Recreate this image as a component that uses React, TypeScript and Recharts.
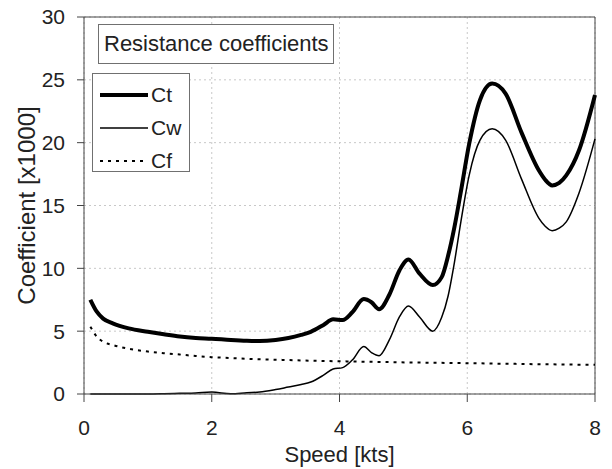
import { LineChart, Line, XAxis, YAxis, CartesianGrid, ReferenceLine, Legend, Label } from "recharts"

const speed = [0.1, 0.2, 0.3, 0.45, 0.7, 1.0, 1.25, 1.5, 1.75, 2.0, 2.3, 2.55, 2.75, 3.0, 3.2, 3.4, 3.55, 3.75, 3.9, 4.05, 4.2, 4.38, 4.5, 4.62, 4.78, 4.94, 5.08, 5.25, 5.46, 5.6, 5.7, 5.8, 5.9, 6.03, 6.2, 6.39, 6.6, 6.85, 7.12, 7.22, 7.33, 7.44, 7.55, 7.75, 8.0]
const ct = [7.5, 6.55, 6.0, 5.62, 5.22, 4.95, 4.75, 4.57, 4.46, 4.4, 4.3, 4.24, 4.22, 4.3, 4.45, 4.7, 4.95, 5.5, 5.94, 5.89, 6.5, 7.55, 7.3, 6.75, 7.9, 9.85, 10.7, 9.6, 8.67, 9.3, 11.0, 13.3, 16.1, 19.9, 23.4, 24.7, 23.9, 20.8, 17.8, 17.05, 16.6, 16.8, 17.4, 19.4, 23.8]
const cw = [0, 0, 0, 0, 0, 0, 0.02, 0.05, 0.08, 0.15, 0.02, 0.1, 0.15, 0.35, 0.55, 0.75, 0.95, 1.5, 1.99, 2.1, 2.7, 3.77, 3.3, 3.05, 4.3, 6.15, 7.0, 6.15, 5.0, 6.1, 7.8, 10.5, 13.7, 17.4, 20.2, 21.1, 20.2, 17.1, 14.0, 13.35, 13.0, 13.2, 13.7, 16.0, 20.3]
const cf = [5.36, 4.56, 4.16, 3.9, 3.6, 3.38, 3.24, 3.14, 3.02, 2.93, 2.86, 2.8, 2.76, 2.73, 2.7, 2.67, 2.65, 2.63, 2.61, 2.6, 2.59, 2.57, 2.56, 2.55, 2.54, 2.52, 2.51, 2.5, 2.49, 2.48, 2.47, 2.46, 2.46, 2.45, 2.44, 2.42, 2.41, 2.39, 2.37, 2.365, 2.36, 2.355, 2.35, 2.33, 2.32]

const xTicks = [0, 2, 4, 6, 8]
const yTicks = [0, 5, 10, 15, 20, 25, 30]
const legendItems = [
  { name: "Ct", width: 4, dash: undefined },
  { name: "Cw", width: 1.5, dash: undefined },
  { name: "Cf", width: 2, dash: "3 5" },
]

const data = speed.map((s, i) => ({ speed: s, ct: ct[i], cw: cw[i], cf: cf[i] }))

const FONT = "'Liberation Sans', Arial, sans-serif"
const AXIS = "#444"

function Boxes() {
  return (
    <div style={{ position: "relative", width: 612, height: 469, fontFamily: FONT, color: "#222" }}>
      <div style={{ position: "absolute", left: 98, top: 24, width: 229, height: 38, border: "1px solid #707070", background: "#fff", fontSize: 22, lineHeight: "38px", paddingLeft: 5, boxSizing: "content-box", whiteSpace: "nowrap" }}>
        Resistance coefficients
      </div>
      <div style={{ position: "absolute", left: 92, top: 73, width: 96, height: 97, border: "1px solid #707070", background: "#fff" }}>
        {legendItems.map((it, i) => (
          <div key={it.name} style={{ position: "absolute", left: 7, top: 6 + i * 33, height: 30, display: "flex", alignItems: "center" }}>
            <svg width={48} height={10}>
              <line x1={0} x2={48} y1={5} y2={5} stroke="#000" strokeWidth={it.width} strokeDasharray={it.dash} />
            </svg>
            <span style={{ fontSize: 21, marginLeft: 3 }}>{it.name}</span>
          </div>
        ))}
      </div>
    </div>
  )
}

export default function App() {
  return (
    <div style={{ position: "absolute", left: 0, top: 0, background: "#fff" }}>
      <LineChart width={612} height={469} data={data} margin={{ top: 17, right: 17, bottom: 0, left: 0 }}>
        <CartesianGrid stroke="#c8c8c8" strokeDasharray="2 3" />
        <XAxis
          dataKey="speed"
          type="number"
          domain={[0, 8]}
          ticks={xTicks}
          height={75}
          tickSize={8}
          tickMargin={18}
          stroke={AXIS}
          tick={{ fill: "#222", fontSize: 21, fontFamily: FONT }}
        >
          <Label value="Speed [kts]" position="insideBottom" offset={7} style={{ fill: "#222", fontSize: 22, fontFamily: FONT }} />
        </XAxis>
        <YAxis
          type="number"
          domain={[0, 30]}
          ticks={yTicks}
          width={84}
          tickSize={7}
          tickMargin={12}
          stroke={AXIS}
          tick={{ fill: "#222", fontSize: 21, fontFamily: FONT }}
        >
          <Label value="Coefficient [x1000]" angle={-90} position="insideLeft" offset={26} style={{ fill: "#222", fontSize: 24, fontFamily: FONT, textAnchor: "middle" }} />
        </YAxis>
        <ReferenceLine y={30} stroke={AXIS} />
        <ReferenceLine x={8} stroke={AXIS} />
        <Line type="monotone" dataKey="cf" stroke="#000" strokeWidth={2} strokeDasharray="3 5" dot={false} isAnimationActive={false} />
        <Line type="monotone" dataKey="cw" stroke="#000" strokeWidth={1.5} dot={false} isAnimationActive={false} />
        <Line type="monotone" dataKey="ct" stroke="#000" strokeWidth={4} dot={false} isAnimationActive={false} />
        <Legend layout="vertical" align="center" verticalAlign="middle" wrapperStyle={{ left: 0, top: 0, width: 612, height: 469, pointerEvents: "none" }} content={() => <Boxes />} />
      </LineChart>
    </div>
  )
}
